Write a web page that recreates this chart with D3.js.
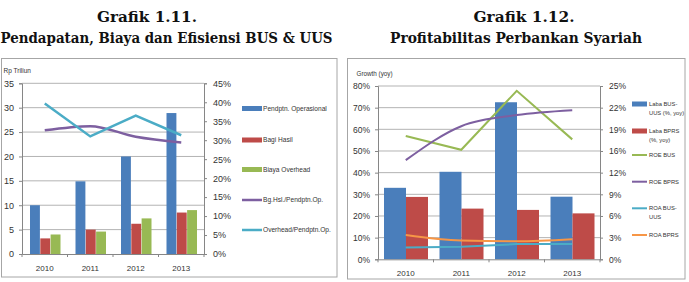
<!DOCTYPE html>
<html><head><meta charset="utf-8">
<script src="https://cdn.jsdelivr.net/npm/d3@7/dist/d3.min.js"></script>
<style>body{margin:0;background:#fff}svg{display:block}</style>
</head><body><svg id="c" width="689" height="282"></svg>
<script>
// ---- Data: Grafik 1.11
const years = ["2010","2011","2012","2013"];
const pendapatanOp = [10, 14.9, 20, 28.9];
const bagiHasil = [3.2, 5.0, 6.2, 8.5];
const biayaOverhead = [4.0, 4.6, 7.3, 9.0];
const bgHslRatio = [0.326, 0.337, 0.309, 0.294];
const overheadRatio = [0.397, 0.310, 0.365, 0.313];
const leftTicksL = [0,5,10,15,20,25,30,35];
const rightTicksL = [0,0.05,0.10,0.15,0.20,0.25,0.30,0.35,0.40,0.45];
const legendL = ["Pendptn. Operasional","Bagi Hasil","Biaya Overhead","Bg.Hsl./Pendptn.Op.","Overhead/Pendptn.Op."];
// ---- Data: Grafik 1.12
const labaBUS = [0.330, 0.404, 0.725, 0.289];
const labaBPRS = [0.288, 0.234, 0.228, 0.212];
const roeBUS = [0.178, 0.158, 0.243, 0.173];
const roeBPRS = [0.143, 0.192, 0.208, 0.215];
const roaBUS = [0.017, 0.018, 0.022, 0.022];
const roaBPRS = [0.035, 0.027, 0.026, 0.029];
const leftTicksR = [0,0.1,0.2,0.3,0.4,0.5,0.6,0.7,0.8];
const rightTicksR = [0,0.03125,0.0625,0.09375,0.125,0.15625,0.1875,0.21875,0.25];
const rightTickLabelsR = ["0%","3%","6%","9%","12%","16%","19%","22%","25%"];
const legendR = [["Laba BUS-","UUS (%, yoy)"],["Laba BPRS","(%, yoy)"],["ROE BUS"],["ROE BPRS"],["ROA BUS-","UUS"],["ROA BPRS"]];

const C = {blue:"#4a7ebb", red:"#be4b48", green:"#98b954", purple:"#7d5fa0", cyan:"#4bacc6", orange:"#f79646"};
const svg = d3.select("#c");
const FONT = "Liberation Sans, Arial, sans-serif";
const TFONT = "DejaVu Serif, serif";

// Titles
function title(t, x, y, w){
  svg.append("text").attr("x",x).attr("y",y).attr("text-anchor","middle")
    .attr("font-family",TFONT).attr("font-weight","bold").attr("font-size",14)
    .attr("textLength",w).attr("lengthAdjust","spacingAndGlyphs").attr("fill","#111").text(t);
}
title("Grafik 1.11.",147,22,100);
title("Pendapatan, Biaya dan Efisiensi BUS & UUS",166.5,43,332);
title("Grafik 1.12.",524,22,101);
title("Profitabilitas Perbankan Syariah",516,43,252);

// Frames
svg.append("rect").attr("x",1.5).attr("y",58.5).attr("width",335.5).attr("height",218.5).attr("fill","none").attr("stroke","#a6a6a6");
svg.append("rect").attr("x",347.5).attr("y",58.5).attr("width",337.5).attr("height",220.5).attr("fill","none").attr("stroke","#a6a6a6");

function axisStyle(g){
  g.selectAll("path.domain").attr("stroke","#868686");
  g.selectAll(".tick line").attr("stroke","#868686");
  g.selectAll("text").attr("font-family",FONT).attr("fill","#333");
}

// ================= Left chart
{
  const L=22, R=204, T=83.3, B=254;
  const x = d3.scaleBand().domain(years).range([L,R]);
  const yL = d3.scaleLinear().domain([0,35]).range([B,T]);
  const yR = d3.scaleLinear().domain([0,0.45]).range([B,T]);
  const xs = d3.scaleBand().domain([0,1,2]).range([8,38.5]).paddingInner(0.04);

  svg.append("g").selectAll("line").data(leftTicksL.slice(1)).join("line")
    .attr("x1",L).attr("x2",R).attr("y1",d=>yL(d)).attr("y2",d=>yL(d)).attr("stroke","#b3b3b3").attr("stroke-width",1);

  const series=[pendapatanOp,bagiHasil,biayaOverhead], cols=[C.blue,C.red,C.green];
  series.forEach((s,i)=>{
    svg.append("g").selectAll("rect").data(s).join("rect")
      .attr("x",(d,j)=>x(years[j])+xs(i)).attr("width",xs.bandwidth())
      .attr("y",d=>yL(d)).attr("height",d=>B-yL(d)).attr("fill",cols[i]);
  });

  const gl = svg.append("g").attr("transform",`translate(${L},0)`)
    .call(d3.axisLeft(yL).tickValues(leftTicksL).tickSize(3).tickPadding(5));
  gl.call(axisStyle); gl.selectAll("text").attr("font-size",9);
  const gr = svg.append("g").attr("transform",`translate(${R},0)`)
    .call(d3.axisRight(yR).tickValues(rightTicksL).tickSize(3).tickPadding(6).tickFormat(d3.format(".0%")));
  gr.call(axisStyle); gr.selectAll("text").attr("font-size",9);
  const gx = svg.append("g").attr("transform",`translate(0,${B})`)
    .call(d3.axisBottom(x).tickSize(0).tickPadding(11));
  gx.call(axisStyle); gx.selectAll("text").attr("font-size",8);
  gx.selectAll(".tick line").remove();
  svg.append("g").selectAll("line").data([L,...years.map(y=>x(y)+x.bandwidth())]).join("line")
    .attr("x1",d=>d).attr("x2",d=>d).attr("y1",B).attr("y2",B+3).attr("stroke","#868686");

  const cx = d=>x(d)+x.bandwidth()/2;
  svg.append("path").datum(bgHslRatio).attr("fill","none").attr("stroke",C.purple).attr("stroke-width",2.5)
    .attr("d",d3.line().x((d,i)=>cx(years[i])).y(d=>yR(d)).curve(d3.curveMonotoneX));
  svg.append("path").datum(overheadRatio).attr("fill","none").attr("stroke",C.cyan).attr("stroke-width",2.5)
    .attr("d",d3.line().x((d,i)=>cx(years[i])).y(d=>yR(d)));

  svg.append("text").attr("x",3.5).attr("y",73).attr("font-family",FONT).attr("font-size",6.5).attr("fill","#333").text("Rp Triliun");

  const ly=[108.5,140,169.5,200,230], lc=[C.blue,C.red,C.green,C.purple,C.cyan];
  legendL.forEach((t,i)=>{
    if(i<3) svg.append("rect").attr("x",242).attr("y",ly[i]-2.5).attr("width",20).attr("height",5).attr("fill",lc[i]);
    else svg.append("line").attr("x1",242).attr("x2",262).attr("y1",ly[i]).attr("y2",ly[i]).attr("stroke",lc[i]).attr("stroke-width",2.5);
    svg.append("text").attr("x",263).attr("y",ly[i]+2.3).attr("font-family",FONT).attr("font-size",6.6).attr("fill","#333").text(t);
  });
}

// ================= Right chart
{
  const L=378, R=600, T=86, B=259.3;
  const x = d3.scaleBand().domain(years).range([L,R]);
  const yL = d3.scaleLinear().domain([0,0.8]).range([B,T]);
  const yR = d3.scaleLinear().domain([0,0.25]).range([B,T]);
  const xs = d3.scaleBand().domain([0,1]).range([6,50]);

  svg.append("g").selectAll("line").data(leftTicksR.slice(1)).join("line")
    .attr("x1",L).attr("x2",R).attr("y1",d=>yL(d)).attr("y2",d=>yL(d)).attr("stroke","#b3b3b3");

  [labaBUS,labaBPRS].forEach((s,i)=>{
    svg.append("g").selectAll("rect").data(s).join("rect")
      .attr("x",(d,j)=>x(years[j])+xs(i)).attr("width",xs.bandwidth())
      .attr("y",d=>yL(d)).attr("height",d=>B-yL(d)).attr("fill",[C.blue,C.red][i]);
  });

  const gl = svg.append("g").attr("transform",`translate(${L},0)`)
    .call(d3.axisLeft(yL).tickValues(leftTicksR).tickSize(3).tickPadding(5).tickFormat(d3.format(".0%")));
  gl.call(axisStyle); gl.selectAll("text").attr("font-size",8.5);
  const gr = svg.append("g").attr("transform",`translate(${R},0)`)
    .call(d3.axisRight(yR).tickValues(rightTicksR).tickSize(3).tickPadding(6).tickFormat((d,i)=>rightTickLabelsR[i]));
  gr.call(axisStyle); gr.selectAll("text").attr("font-size",8.5);
  const gx = svg.append("g").attr("transform",`translate(0,${B})`)
    .call(d3.axisBottom(x).tickSize(0).tickPadding(11));
  gx.call(axisStyle); gx.selectAll("text").attr("font-size",8);
  svg.append("g").selectAll("line").data([L,...years.map(y=>x(y)+x.bandwidth())]).join("line")
    .attr("x1",d=>d).attr("x2",d=>d).attr("y1",B).attr("y2",B+3).attr("stroke","#868686");

  const cx = d=>x(d)+x.bandwidth()/2;
  const lines=[[roaBUS,C.cyan,false],[roaBPRS,C.orange,true],[roeBUS,C.green,false],[roeBPRS,C.purple,true]];
  lines.forEach(([s,c,sm])=>{
    const ln=d3.line().x((d,i)=>cx(years[i])).y(d=>yR(d));
    if(sm) ln.curve(d3.curveMonotoneX);
    svg.append("path").datum(s).attr("fill","none").attr("stroke",c).attr("stroke-width",2).attr("d",ln);
  });

  svg.append("text").attr("x",356.5).attr("y",75.5).attr("font-family",FONT).attr("font-size",6.3).attr("fill","#333").text("Growth (yoy)");

  const ly=[104,131,155,181.7,208.3,235], lc=[C.blue,C.red,C.green,C.purple,C.cyan,C.orange];
  legendR.forEach((t,i)=>{
    if(i<2) svg.append("rect").attr("x",632).attr("y",ly[i]-2.5).attr("width",15).attr("height",5).attr("fill",lc[i]);
    else svg.append("line").attr("x1",632).attr("x2",647).attr("y1",ly[i]).attr("y2",ly[i]).attr("stroke",lc[i]).attr("stroke-width",2);
    t.forEach((s,k)=>svg.append("text").attr("x",649).attr("y",ly[i]+2+k*9).attr("font-family",FONT).attr("font-size",5.8).attr("fill","#333").text(s));
  });
}
</script></body></html>
